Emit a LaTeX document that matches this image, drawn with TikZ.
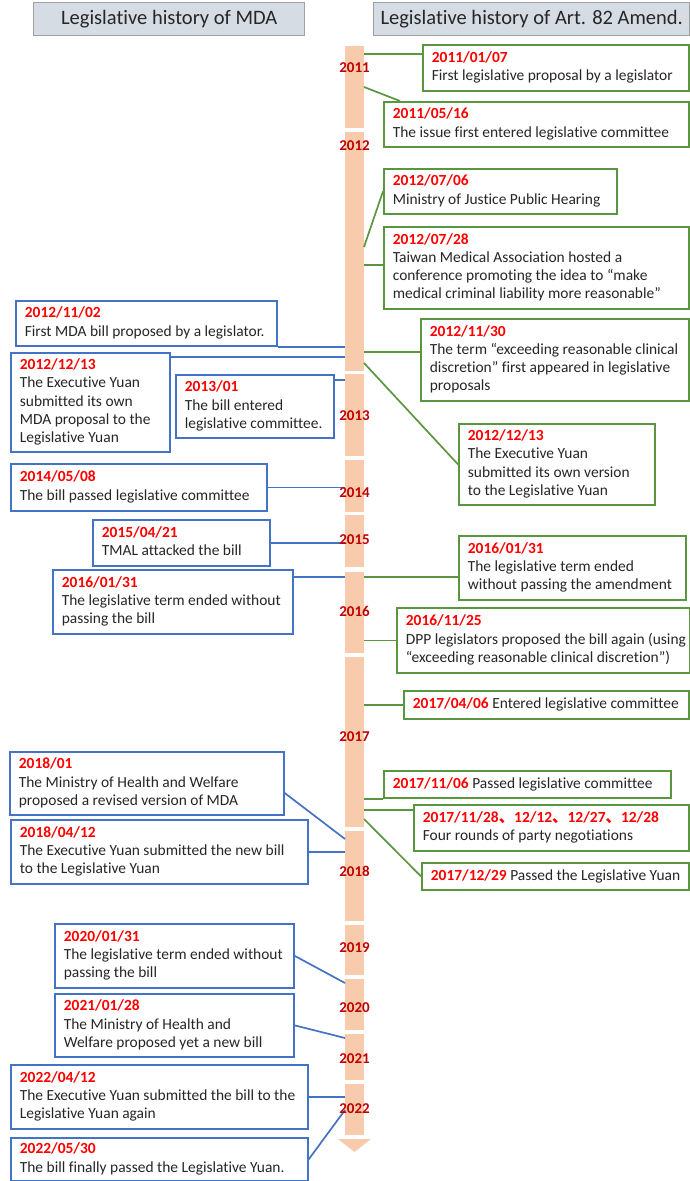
\documentclass[tikz,border=0pt]{standalone}
\usepackage{fontspec}
\setmainfont{Carlito}[Ligatures={NoCommon}]
\newfontfamily\cjk{Noto Sans CJK SC}
\usetikzlibrary{calc}
\definecolor{gbord}{HTML}{5A9640}
\definecolor{bbord}{HTML}{4472C4}
\definecolor{datered}{HTML}{FF0000}
\definecolor{yearred}{HTML}{C00000}
\definecolor{barc}{HTML}{F8CBAD}
\definecolor{hfill}{HTML}{D6DCE4}
\definecolor{hbord}{HTML}{A0A0A0}
\definecolor{txt}{HTML}{262626}
% #1 box width, #2 date, #3 body lines
\newcommand\evtext[3]{\makebox[\dimexpr#1pt-18pt\relax][l]{\begin{tabular}{@{}l@{}}{\bfseries\color{datered}#2}\\#3\end{tabular}}}
\newcommand\evone[3]{\makebox[\dimexpr#1pt-18pt\relax][l]{{\bfseries\color{datered}#2} #3}}
\tikzset{
  evbox/.style={draw, line width=1.7pt, fill=white, anchor=north west, inner xsep=9pt, inner ysep=0pt,
    text=txt, font=\fontsize{15.45}{18.3}\selectfont},
  gbox/.style={evbox, draw=gbord},
  bbox/.style={evbox, draw=bbord},
  gline/.style={draw=gbord, line width=1.7pt},
  bline/.style={draw=bbord, line width=1.7pt},
  hbox/.style={draw=hbord, fill=hfill, line width=1.4pt, anchor=north west, text=txt,
    font=\fontsize{20.5}{24}\selectfont},
  yearlbl/.style={text=yearred, font=\fontsize{15}{18}\selectfont\bfseries, inner sep=0pt}
}
\begin{document}
\begin{tikzpicture}[x=1pt,y=-1pt]
\useasboundingbox (0,0) rectangle (690,1181);
% headers
\node[hbox, minimum width=271pt, minimum height=33pt] (h1) at (33,2) {Legislative history of MDA};
\node[hbox, minimum width=316pt, minimum height=33pt] (h2) at (373,2) {Legislative history of Art. 82 Amend.};
% timeline bar
\foreach \a/\b in {46/128,132/371,374/456,460/512,515/567,572/653,657/827,831/921,925/975,979/1030,1034/1080,1084/1135}
  \fill[barc] (345,\a) rectangle (364,\b);
\fill[barc] (338,1139) -- (371,1139) -- (354.5,1152) -- cycle;
\coordinate (bR) at (364,0);
\coordinate (bL) at (345,0);
% right column
\node[gbox, minimum width=266pt, minimum height=46pt] (r1) at (422,44) {\evtext{266}{2011/01/07}{First legislative proposal by a legislator}};
\node[gbox, minimum width=305pt, minimum height=45pt] (r2) at (383,101) {\evtext{305}{2011/05/16}{The issue first entered legislative committee}};
\node[gbox, minimum width=233pt, minimum height=45pt] (r3) at (383,168) {\evtext{233}{2012/07/06}{Ministry of Justice Public Hearing}};
\node[gbox, minimum width=305pt, minimum height=82pt] (r4) at (383,226) {\evtext{305}{2012/07/28}{Taiwan Medical Association hosted a\\conference promoting the idea to “make\\medical criminal liability more reasonable”}};
\node[gbox, minimum width=268pt, minimum height=82pt] (r5) at (420,318) {\evtext{268}{2012/11/30}{The term “exceeding reasonable clinical\\discretion” first appeared in legislative\\proposals}};
\node[gbox, minimum width=196pt, minimum height=81pt] (r6) at (458,423) {\evtext{196}{2012/12/13}{The Executive Yuan\\submitted its own version\\to the Legislative Yuan}};
\node[gbox, minimum width=227pt, minimum height=64pt] (r7) at (458,535) {\evtext{227}{2016/01/31}{The legislative term ended\\without passing the amendment}};
\node[gbox, minimum width=293pt, minimum height=65pt] (r8) at (396,607) {\evtext{293}{2016/11/25}{DPP legislators proposed the bill again (using\\“exceeding reasonable clinical discretion”)}};
\node[gbox, minimum width=285pt, minimum height=28pt] (r9) at (403,690) {\evone{285}{2017/04/06}{Entered legislative committee}};
\node[gbox, minimum width=287pt, minimum height=27pt] (r10) at (383,770) {\evone{287}{2017/11/06}{Passed legislative committee}};
\node[gbox, minimum width=275pt, minimum height=46pt] (r11) at (413,804) {\evtext{275}{2017/11/28{\cjk 、}12/12{\cjk 、}12/27{\cjk 、}12/28}{Four rounds of party negotiations}};
\node[gbox, minimum width=267pt, minimum height=27pt] (r12) at (421,862) {\evone{267}{2017/12/29}{Passed the Legislative Yuan}};
% left column
\node[bbox, minimum width=261pt, minimum height=45pt] (l1) at (15,300) {\evtext{261}{2012/11/02}{First MDA bill proposed by a legislator.}};
\node[bbox, minimum width=159pt, minimum height=99pt] (l2) at (10,352) {\evtext{159}{2012/12/13}{The Executive Yuan\\submitted its own\\MDA proposal to the\\Legislative Yuan}};
\node[bbox, minimum width=158pt, minimum height=63pt] (l3) at (175,374) {\evtext{158}{2013/01}{The bill entered\\legislative committee.}};
\node[bbox, minimum width=256pt, minimum height=47pt] (l4) at (10,463) {\evtext{256}{2014/05/08}{The bill passed legislative committee}};
\node[bbox, minimum width=177pt, minimum height=46pt] (l5) at (92,519) {\evtext{177}{2015/04/21}{TMAL attacked the bill}};
\node[bbox, minimum width=240pt, minimum height=64pt] (l6) at (52,569) {\evtext{240}{2016/01/31}{The legislative term ended without\\passing the bill}};
\node[bbox, minimum width=274pt, minimum height=63pt] (l7) at (9,751) {\evtext{274}{2018/01}{The Ministry of Health and Welfare\\proposed a revised version of MDA}};
\node[bbox, minimum width=297pt, minimum height=64pt] (l8) at (10,819) {\evtext{297}{2018/04/12}{The Executive Yuan submitted the new bill\\to the Legislative Yuan}};
\node[bbox, minimum width=239pt, minimum height=64pt] (l9) at (54,923) {\evtext{239}{2020/01/31}{The legislative term ended without\\passing the bill}};
\node[bbox, minimum width=239pt, minimum height=63pt] (l10) at (54,993) {\evtext{239}{2021/01/28}{The Ministry of Health and\\Welfare proposed yet a new bill}};
\node[bbox, minimum width=297pt, minimum height=64pt] (l11) at (10,1064) {\evtext{297}{2022/04/12}{The Executive Yuan submitted the bill to the\\Legislative Yuan again}};
\node[bbox, minimum width=297pt, minimum height=43pt] (l12) at (10,1137) {\evtext{297}{2022/05/30}{The bill finally passed the Legislative Yuan.}};
% right connectors
\draw[gline] (bR |- 0,54) -- (r1.west |- 0,54);
\draw[gline] (bR |- 0,87) -- ($(r2.north west)+(17,0)$);
\draw[gline] (bR |- 0,247) -- (r3.west);
\draw[gline] (bR |- 0,265) -- (r4.west |- 0,265);
\draw[gline] (bR |- 0,352) -- (r5.west |- 0,352);
\draw[gline] (bR |- 0,363) -- (r6.west);
\draw[gline] (bR |- 0,577) -- (r7.west |- 0,577);
\draw[gline] (bR |- r8.west) -- (r8.west);
\draw[gline] (bR |- r9.west) -- (r9.west);
\draw[gline] (bR |- r10.south west) -- (r10.south west);
\draw[gline] (bR |- 0,810) -- (r11.west |- 0,810);
\draw[gline] (bR |- 0,819) -- (r12.west);
% left connectors
\draw[bline] (l1.south east) -- (bL |- l1.south east);
\draw[bline] (l2.east |- 0,357) -- (bL |- 0,357);
\draw[bline] (l3.east |- 0,380) -- (bL |- 0,380);
\draw[bline] (l4.east) -- (bL |- l4.east);
\draw[bline] (l5.east) -- (bL |- l5.east);
\draw[bline] (l6.east |- 0,577) -- (bL |- 0,577);
\draw[bline] (l7.east |- 0,793) -- (bL |- 0,839);
\draw[bline] (l8.east) -- (bL |- l8.east);
\draw[bline] (l9.east) -- (bL |- 0,983);
\draw[bline] (l10.east) -- (bL |- 0,1038);
\draw[bline] (l11.east) -- (bL |- l11.east);
\draw[bline] (l12.east) -- (bL |- 0,1110);
% year labels
\foreach \yr/\yy in {2011/68,2012/146,2013/416,2014/493,2015/540,2016/611,2017/737,2018/871,2019/948,2020/1008,2021/1059,2022/1109}
  \node[yearlbl] (y\yr) at (354.5,\yy) {\yr};
\end{tikzpicture}
\end{document}
